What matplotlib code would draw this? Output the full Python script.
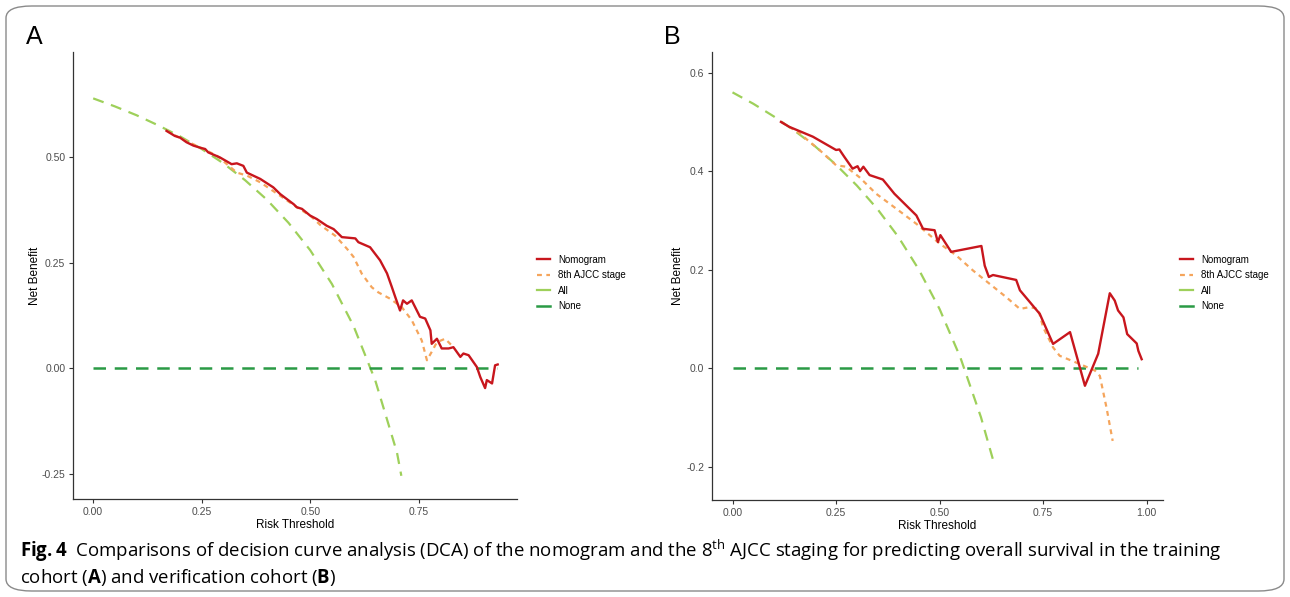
import matplotlib.pyplot as plt
from matplotlib.patches import FancyBboxPatch

plt.rcParams['font.family'] = ['Liberation Sans', 'DejaVu Sans']
plt.rcParams['mathtext.fontset'] = 'custom'
plt.rcParams['mathtext.rm'] = 'Open Sans'
plt.rcParams['mathtext.bf'] = 'Open Sans:bold'

# ---- panel A (training cohort) ----
a_nomo_x = [0.169, 0.188, 0.200, 0.215, 0.231, 0.250, 0.258, 0.265, 0.292, 0.319, 0.331,
            0.346, 0.354, 0.385, 0.415, 0.431, 0.462, 0.469, 0.481, 0.500, 0.515, 0.538,
            0.554, 0.573, 0.604, 0.611, 0.638, 0.661, 0.677, 0.688, 0.696, 0.707, 0.714,
            0.723, 0.734, 0.753, 0.765, 0.777, 0.780, 0.792, 0.803, 0.819, 0.830, 0.846,
            0.853, 0.865, 0.884, 0.892, 0.903, 0.907, 0.919, 0.926, 0.932]
a_nomo_y = [0.563, 0.551, 0.547, 0.536, 0.528, 0.522, 0.520, 0.512, 0.500, 0.484, 0.486,
            0.480, 0.464, 0.449, 0.429, 0.413, 0.389, 0.382, 0.378, 0.362, 0.354, 0.338,
            0.330, 0.311, 0.308, 0.299, 0.287, 0.256, 0.225, 0.193, 0.169, 0.137, 0.161,
            0.153, 0.161, 0.122, 0.118, 0.090, 0.058, 0.070, 0.047, 0.047, 0.050, 0.027,
            0.035, 0.031, 0.003, -0.021, -0.047, -0.028, -0.036, 0.007, 0.009]

a_ajcc_x = [0.169, 0.200, 0.254, 0.285, 0.331, 0.354, 0.385, 0.431, 0.469, 0.500, 0.523,
            0.558, 0.585, 0.600, 0.619, 0.642, 0.657, 0.684, 0.711, 0.734, 0.757, 0.769,
            0.780, 0.792, 0.811, 0.830]
a_ajcc_y = [0.563, 0.546, 0.520, 0.504, 0.464, 0.457, 0.441, 0.409, 0.382, 0.362, 0.340,
            0.314, 0.283, 0.264, 0.224, 0.192, 0.180, 0.165, 0.145, 0.114, 0.066, 0.019,
            0.039, 0.062, 0.070, 0.050]

a_all_x = [0.00, 0.05, 0.10, 0.15, 0.20, 0.25, 0.30, 0.35, 0.40, 0.45, 0.50, 0.55, 0.60,
           0.65, 0.70, 0.71]
a_all_y = [0.640, 0.621, 0.600, 0.576, 0.550, 0.520, 0.486, 0.446, 0.400, 0.345, 0.280,
           0.200, 0.100, -0.029, -0.200, -0.255]

a_none_x = [0.0, 0.93]
a_none_y = [0.0, 0.0]

# ---- panel B (verification cohort) ----
b_nomo_x = [0.117, 0.137, 0.194, 0.250, 0.258, 0.270, 0.290, 0.302, 0.308, 0.316, 0.331,
            0.363, 0.391, 0.444, 0.460, 0.488, 0.496, 0.502, 0.528, 0.601, 0.609, 0.619,
            0.629, 0.685, 0.694, 0.742, 0.774, 0.815, 0.851, 0.883, 0.911, 0.923, 0.931,
            0.944, 0.953, 0.976, 0.980, 0.988]
b_nomo_y = [0.500, 0.490, 0.470, 0.443, 0.444, 0.429, 0.405, 0.410, 0.400, 0.409, 0.392,
            0.383, 0.354, 0.310, 0.283, 0.280, 0.256, 0.270, 0.236, 0.248, 0.208, 0.185,
            0.189, 0.179, 0.158, 0.110, 0.049, 0.073, -0.036, 0.029, 0.152, 0.137, 0.117,
            0.103, 0.069, 0.050, 0.035, 0.018]

b_ajcc_x = [0.117, 0.160, 0.210, 0.250, 0.274, 0.306, 0.347, 0.395, 0.444, 0.500, 0.540,
            0.581, 0.621, 0.661, 0.694, 0.718, 0.738, 0.750, 0.774, 0.790, 0.839, 0.875,
            0.887, 0.903, 0.918]
b_ajcc_y = [0.500, 0.478, 0.443, 0.412, 0.409, 0.388, 0.354, 0.324, 0.293, 0.253, 0.229,
            0.198, 0.171, 0.144, 0.120, 0.124, 0.120, 0.083, 0.042, 0.025, 0.008, -0.005,
            -0.016, -0.080, -0.148]

b_all_x = [0.00, 0.05, 0.10, 0.15, 0.20, 0.25, 0.30, 0.35, 0.40, 0.45, 0.50, 0.55, 0.60, 0.63]
b_all_y = [0.560, 0.537, 0.511, 0.482, 0.450, 0.413, 0.371, 0.323, 0.267, 0.200, 0.120,
           0.022, -0.100, -0.189]

b_none_x = [0.0, 0.98]
b_none_y = [0.0, 0.0]

labels = ['Nomogram', '8th AJCC stage', 'All', 'None']
colors = ['#C8161D', '#F5A55C', '#9ED05A', '#2A9A45']

W, H = 1290, 597
fig = plt.figure(figsize=(W / 100, H / 100), dpi=100)

# rounded frame around the whole figure
frame = FancyBboxPatch((6 / W, 6 / H), 1 - 12 / W, 1 - 12 / H,
                       boxstyle='round,pad=0,rounding_size=0.02',
                       transform=fig.transFigure, fill=False,
                       edgecolor='#8a8a8a', linewidth=1.0)
fig.patches.append(frame)


def make_panel(rect, series, xlim, ylim, yticks, yticklabels, xticks, xticklabels,
               leg_xy, ylab_x):
    ax = fig.add_axes(rect)
    (nx, ny), (jx, jy), (ax_, ay_), (ox, oy) = series
    ax.plot(nx, ny, color=colors[0], lw=1.7, label=labels[0], zorder=4)
    ax.plot(jx, jy, color=colors[1], lw=1.6, dashes=(2.2, 2.0), label=labels[1], zorder=3)
    ax.plot(ax_, ay_, color=colors[2], lw=1.6, dashes=(5, 3.5), label=labels[2], zorder=2)
    ax.plot(ox, oy, color=colors[3], lw=1.8, dashes=(5, 3.5), label=labels[3], zorder=2)
    ax.set_xlim(*xlim)
    ax.set_ylim(*ylim)
    ax.set_xticks(xticks)
    ax.set_xticklabels(xticklabels)
    ax.set_yticks(yticks)
    ax.set_yticklabels(yticklabels)
    for s in ['top', 'right']:
        ax.spines[s].set_visible(False)
    for s in ['left', 'bottom']:
        ax.spines[s].set_color('#333333')
        ax.spines[s].set_linewidth(0.9)
    ax.tick_params(length=3, width=0.8, color='#333333', labelsize=7.5,
                   labelcolor='#4D4D4D', pad=2.5)
    ax.set_xlabel('Risk Threshold', fontsize=8.5, labelpad=2)
    ax.set_ylabel('Net Benefit', fontsize=8.5)
    ax.yaxis.set_label_coords(ylab_x, 0.5)
    leg = ax.legend(loc='upper left', bbox_to_anchor=leg_xy, bbox_transform=fig.transFigure,
                    frameon=False, fontsize=7, handlelength=1.3, handletextpad=0.9,
                    labelspacing=0.55, borderaxespad=0)
    for h in leg.get_lines():
        h.set_linestyle('-' if h.get_label() != labels[1] else (0, (2.2, 2.0)))
    return ax


ax_a = make_panel([73 / W, 1 - 499 / H, 444 / W, 447 / H],
                  [(a_nomo_x, a_nomo_y), (a_ajcc_x, a_ajcc_y), (a_all_x, a_all_y),
                   (a_none_x, a_none_y)],
                  (-0.0465, 0.9765), (-0.31, 0.75),
                  [-0.25, 0, 0.25, 0.5], ['-0.25', '0.00', '0.25', '0.50'],
                  [0, 0.25, 0.5, 0.75], ['0.00', '0.25', '0.50', '0.75'],
                  (533 / W, 1 - 251 / H), -0.072)

ax_b = make_panel([712 / W, 1 - 500 / H, 451 / W, 448 / H],
                  [(b_nomo_x, b_nomo_y), (b_ajcc_x, b_ajcc_y), (b_all_x, b_all_y),
                   (b_none_x, b_none_y)],
                  (-0.0495, 1.0395), (-0.268, 0.642),
                  [-0.2, 0, 0.2, 0.4, 0.6], ['-0.2', '0.0', '0.2', '0.4', '0.6'],
                  [0, 0.25, 0.5, 0.75, 1.0], ['0.00', '0.25', '0.50', '0.75', '1.00'],
                  (1176 / W, 1 - 251 / H), -0.062)

fig.text(26 / W, 1 - 37 / H, 'A', fontsize=18, va='center', ha='left')
fig.text(664 / W, 1 - 37 / H, 'B', fontsize=18, va='center', ha='left')

cap1 = (r'$\mathbf{Fig.4}$  Comparisons of decision curve analysis (DCA) of the nomogram '
        r'and the 8$^{\mathrm{th}}$ AJCC staging for predicting overall survival in the training')
cap2 = r'cohort ($\mathbf{A}$) and verification cohort ($\mathbf{B}$)'
fig.text(20 / W, 1 - 551 / H, cap1, fontsize=13.4, family='Open Sans', va='center', ha='left')
fig.text(20 / W, 1 - 578 / H, cap2, fontsize=13.4, family='Open Sans', va='center', ha='left')

fig.savefig('out.png', dpi=100)
